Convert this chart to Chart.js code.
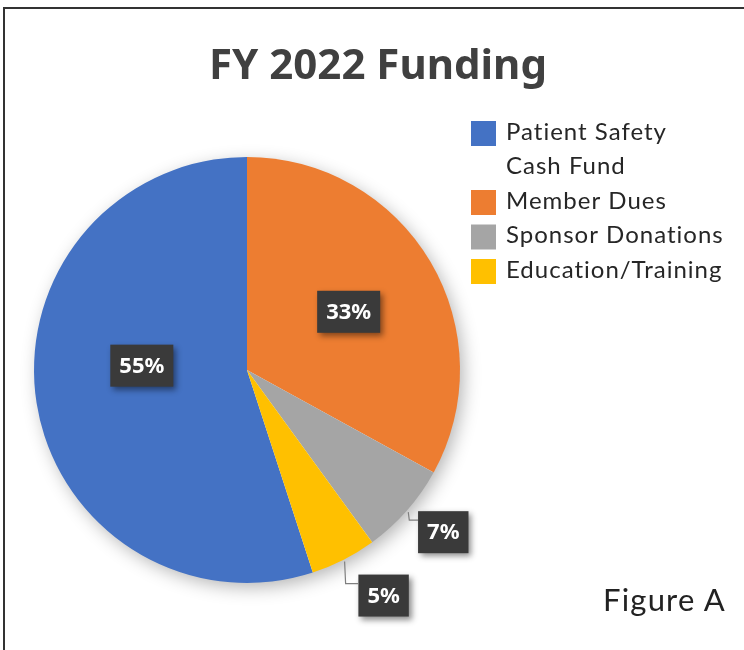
<!DOCTYPE html>
<html>
<head>
<meta charset="utf-8">
<script src="https://cdn.jsdelivr.net/npm/chart.js@4/dist/chart.umd.min.js"></script>
<style>
html, body { margin: 0; padding: 0; background: #fff; }
#wrap { position: relative; width: 744px; height: 650px; overflow: hidden; }
#frame { position: absolute; left: 3px; top: 7px; width: 800px; height: 700px; border-left: 2px solid #333; border-top: 2px solid #333; }
#title { position: absolute; left: 0; width: 756px; top: 34px; text-align: center; font: bold 42px "Noto Sans"; color: #404040; }
#fig { position: absolute; left: 603px; top: 580px; font: 31px Lato; letter-spacing: 1.2px; color: #222; }
canvas { position: absolute; left: 0; top: 0; }
</style>
</head>
<body>
<div id="wrap">
  <div id="frame"></div>
  <canvas id="pie" width="744" height="650"></canvas>
  <div id="title">FY 2022 Funding</div>
  <div id="fig">Figure A</div>
</div>
<script>
// data
var categories = [['Patient Safety', 'Cash Fund'], 'Member Dues', 'Sponsor Donations', 'Education/Training'];
var shares = [55, 33, 7, 5];
var colors = ['#4472C4', '#ED7D31', '#A5A5A5', '#FFC000'];

// inside labels get a small nudge from the slice centre, the small slices sit outside
var insideNudge = [[0, -21], [10, -4], null, null];
var outsideOffset = [null, null, [35, 20], [39, 34]];

var pieShadow = {
    id: 'pieShadow',
    beforeDatasetsDraw: function (chart) {
        var arc = chart.getDatasetMeta(0).data[0];
        var ctx = chart.ctx;
        ctx.save();
        ctx.shadowColor = 'rgba(0,0,0,0.3)';
        ctx.shadowBlur = 18;
        ctx.shadowOffsetX = 4;
        ctx.shadowOffsetY = 5;
        ctx.fillStyle = '#fff';
        ctx.beginPath();
        ctx.arc(arc.x, arc.y, arc.outerRadius - 1, 0, Math.PI * 2);
        ctx.fill();
        ctx.restore();
    }
};

function labelBox(ctx, cx, cy, text) {
    ctx.font = 'bold 22px "Noto Sans"';
    var w = ctx.measureText(text).width + 18;
    var h = 42;
    ctx.save();
    ctx.shadowColor = 'rgba(0,0,0,0.45)';
    ctx.shadowBlur = 6;
    ctx.shadowOffsetX = 3;
    ctx.shadowOffsetY = 3;
    ctx.fillStyle = '#3a3a3a';
    ctx.fillRect(cx - w / 2, cy - h / 2, w, h);
    ctx.restore();
    ctx.fillStyle = '#fff';
    ctx.textAlign = 'center';
    ctx.textBaseline = 'middle';
    ctx.fillText(text, cx, cy + 1);
    return { left: cx - w / 2, top: cy - h / 2 };
}

var sliceLabels = {
    id: 'sliceLabels',
    afterDatasetsDraw: function (chart) {
        var ctx = chart.ctx;
        var total = shares.reduce(function (a, b) { return a + b; }, 0);
        chart.getDatasetMeta(0).data.forEach(function (arc, i) {
            var text = Math.round(shares[i] / total * 100) + '%';
            var off = outsideOffset[i];
            if (!off) {
                var p = arc.getCenterPoint();
                labelBox(ctx, p.x + insideNudge[i][0], p.y + insideNudge[i][1], text);
                return;
            }
            var mid = (arc.startAngle + arc.endAngle) / 2;
            var ex = arc.x + Math.cos(mid) * (arc.outerRadius + 2);
            var ey = arc.y + Math.sin(mid) * (arc.outerRadius + 2);
            var box = labelBox(ctx, ex + off[0], ey + off[1], text);
            ctx.save();
            ctx.strokeStyle = '#7f7f7f';
            ctx.lineWidth = 1.2;
            ctx.beginPath();
            ctx.moveTo(ex, ey);
            ctx.lineTo(ex + 1, box.top + 9);
            ctx.lineTo(box.left, box.top + 9);
            ctx.stroke();
            ctx.restore();
        });
    }
};

var sideLegend = {
    id: 'sideLegend',
    afterDraw: function (chart) {
        var ctx = chart.ctx;
        var y = 132;
        ctx.save();
        ctx.font = '24px Lato';
        ctx.letterSpacing = '1px';
        ctx.textBaseline = 'middle';
        ctx.textAlign = 'left';
        chart.data.labels.forEach(function (lab, i) {
            var lines = Array.isArray(lab) ? lab : [lab];
            ctx.fillStyle = colors[i];
            ctx.fillRect(471, y - 11, 25, 25);
            ctx.fillStyle = '#262626';
            lines.forEach(function (ln) {
                ctx.fillText(ln, 506, y);
                y += 34.5;
            });
        });
        ctx.restore();
    }
};

var ctx = document.getElementById('pie').getContext('2d');
var fundingChart = new Chart(ctx, {
    type: 'pie',
    data: {
        labels: categories,
        datasets: [{
            data: shares,
            backgroundColor: colors,
            borderWidth: 0
        }]
    },
    options: {
        responsive: false,
        animation: false,
        rotation: 162,
        layout: { padding: { left: 34, top: 157, right: 284, bottom: 67 } },
        plugins: {
            legend: { display: false },
            tooltip: { enabled: false }
        }
    },
    plugins: [pieShadow, sliceLabels, sideLegend]
});
</script>
</body>
</html>
